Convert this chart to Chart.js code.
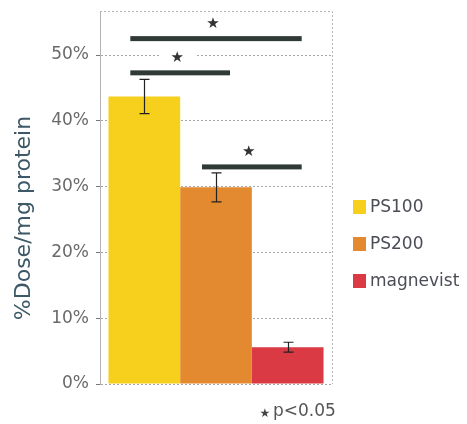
<!DOCTYPE html>
<html><head><meta charset="utf-8">
<script src="https://cdn.jsdelivr.net/npm/chart.js@4/dist/chart.umd.min.js"></script>
<style>html,body{margin:0;padding:0;background:#fff}#wrap{width:467px;height:424px}</style>
</head><body><div id="wrap"><canvas id="c" width="467" height="424"></canvas></div>
<script>
const categories = [''];
const seriesNames = ['PS100', 'PS200', 'magnevist'];
const seriesValues = [43.7, 29.9, 5.6];
const seriesErrors = [2.6, 2.2, 0.75];
const seriesColors = ['#f7d01e', '#e3892f', '#d93a44'];
const tickValues = [0, 10, 20, 30, 40, 50];
const yMax = 56.7;
const yTitle = '%Dose/mg protein';
const sigFrom = [0, 0, 1];
const sigTo = [2, 1, 2];
const sigLevel = [52.5, 47.3, 33.0];
const footnote = 'p<0.05';

const FONT = 'DejaVu Sans';

const deco = {
  id: 'deco',
  beforeDatasetsDraw(chart) {
    const { ctx, chartArea: a } = chart;
    ctx.save();
    ctx.strokeStyle = '#b4b4b4'; ctx.lineWidth = 1; ctx.setLineDash([2, 2]);
    ctx.beginPath();
    ctx.moveTo(a.left, a.top + 0.5);
    ctx.lineTo(a.right + 0.5, a.top + 0.5);
    ctx.lineTo(a.right + 0.5, a.bottom);
    ctx.stroke();
    ctx.restore();
  },
  afterDatasetsDraw(chart) {
    const ctx = chart.ctx, y = chart.scales.y;
    ctx.save();
    chart.data.datasets.forEach((ds, i) => {
      const el = chart.getDatasetMeta(i).data[0];
      const x = Math.round(el.x) + 0.5;
      const hi = y.getPixelForValue(ds.data[0] + seriesErrors[i]);
      const lo = y.getPixelForValue(ds.data[0] - seriesErrors[i]);
      ctx.strokeStyle = '#222'; ctx.lineWidth = 1.2; ctx.setLineDash([]);
      ctx.beginPath();
      ctx.moveTo(x, hi); ctx.lineTo(x, lo);
      ctx.moveTo(x - 5, hi); ctx.lineTo(x + 5, hi);
      ctx.moveTo(x - 5, lo); ctx.lineTo(x + 5, lo);
      ctx.stroke();
    });
    for (let k = 0; k < sigFrom.length; k++) {
      const x1 = chart.getDatasetMeta(sigFrom[k]).data[0].x - 14;
      const x2 = chart.getDatasetMeta(sigTo[k]).data[0].x + 14;
      const py = y.getPixelForValue(sigLevel[k]);
      ctx.fillStyle = '#2f3a35';
      ctx.fillRect(x1, py - 2.5, x2 - x1, 5);
      const sx = (x1 + x2) / 2 - 3, sy = py - 15;
      ctx.fillStyle = '#fff';
      ctx.fillRect(sx - 18, sy - 9, 36, 18);
      ctx.fillStyle = '#333';
      ctx.font = '15px "' + FONT + '"';
      ctx.textAlign = 'center'; ctx.textBaseline = 'middle';
      ctx.fillText('\u2605', sx, sy);
    }
    ctx.restore();
  },
  afterDraw(chart) {
    const ctx = chart.ctx;
    ctx.save();
    const legY = [207, 244, 281];
    chart.data.datasets.forEach((ds, i) => {
      ctx.fillStyle = ds.backgroundColor;
      ctx.fillRect(353, legY[i] - 7, 13, 14);
      ctx.fillStyle = '#4a4d55';
      ctx.font = '17px "' + FONT + '"';
      ctx.textAlign = 'left'; ctx.textBaseline = 'middle';
      ctx.fillText(ds.label, 370, legY[i] + 1);
    });
    ctx.save();
    ctx.translate(24, 218);
    ctx.rotate(-Math.PI / 2);
    ctx.fillStyle = '#3d5866';
    ctx.font = '22px "' + FONT + '"';
    ctx.textAlign = 'center'; ctx.textBaseline = 'middle';
    ctx.fillText(yTitle, 0, 0);
    ctx.restore();
    ctx.fillStyle = '#444';
    ctx.font = '12px "' + FONT + '"';
    ctx.textAlign = 'center'; ctx.textBaseline = 'middle';
    ctx.fillText('\u2605', 265, 414);
    ctx.fillStyle = '#555';
    ctx.font = '17px "' + FONT + '"';
    ctx.textAlign = 'left';
    ctx.fillText(footnote, 273, 412);
    ctx.restore();
  }
};

new Chart(document.getElementById('c'), {
  type: 'bar',
  data: {
    labels: categories,
    datasets: seriesNames.map((n, i) => ({
      label: n,
      data: [seriesValues[i]],
      backgroundColor: seriesColors[i],
      borderWidth: 0,
      categoryPercentage: 0.927,
      barPercentage: 1.0
    }))
  },
  options: {
    responsive: false,
    animation: false,
    devicePixelRatio: 1,
    layout: { padding: { left: 0, right: 135, top: 11, bottom: 40 } },
    plugins: { legend: { display: false }, tooltip: { enabled: false }, title: { display: false } },
    scales: {
      x: { display: false },
      y: {
        min: 0, max: yMax,
        afterBuildTicks: s => { s.ticks = tickValues.map(v => ({ value: v })); },
        afterFit: s => { s.width = 100; s.paddingTop = 0; s.paddingBottom = 0; },
        ticks: { callback: v => v + '%', font: { family: FONT, size: 17 }, color: '#6a6a6a', padding: 7 },
        grid: { color: '#a8a8a8', lineWidth: 1, tickLength: 4, tickColor: '#777', tickBorderDash: [] },
        border: { display: true, color: '#b4b4b4', dash: [2, 2] }
      }
    }
  },
  plugins: [deco]
});
</script>
</body></html>
